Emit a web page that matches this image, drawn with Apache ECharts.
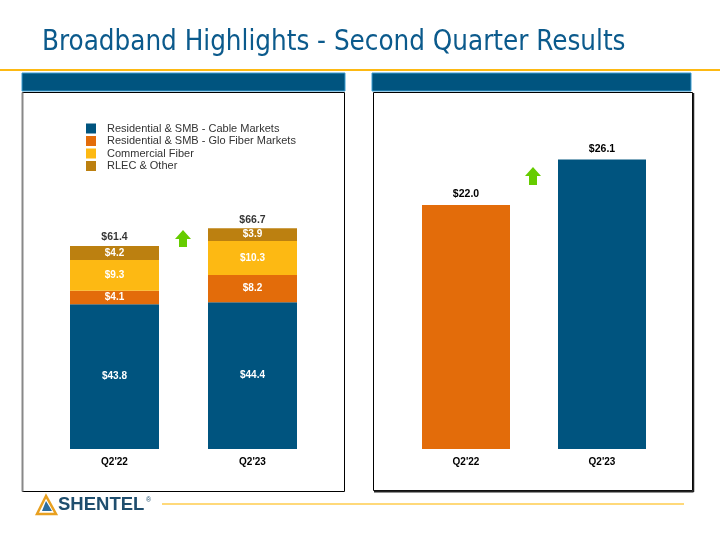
<!DOCTYPE html>
<html>
<head>
<meta charset="utf-8">
<script src="https://cdn.jsdelivr.net/npm/echarts@6/dist/echarts.min.js"></script>
<style>html,body{margin:0;padding:0;background:#fff}#c{width:720px;height:540px}</style>
</head>
<body>
<div id="c"></div>
<script>
// ---- data ----
const categories = ["Q2'22", "Q2'23"];
const cableMarkets = [43.8, 44.4];
const gloFiber = [4.1, 8.2];
const commercialFiber = [9.3, 10.3];
const rlecOther = [4.2, 3.9];
const stackTotals = [61.4, 66.7];
const rightValues = [22.0, 26.1];
const seriesNames = ['Residential & SMB - Cable Markets', 'Residential & SMB - Glo Fiber Markets', 'Commercial Fiber', 'RLEC & Other'];

const BLUE = '#00547F', ORANGE = '#E36C0A', YELLOW = '#FDB913', BROWN = '#BC8010';
const fmt = v => '$' + Number(v).toFixed(1);

const chart = echarts.init(document.getElementById('c'));
const inLabel = {show: true, position: 'inside', color: '#fff', fontFamily: 'Liberation Sans, Arial', fontWeight: 'bold', fontSize: 10, formatter: p => fmt(p.value)};
const barBase = {type: 'bar', stack: 'L', xAxisIndex: 0, yAxisIndex: 0, barWidth: 89, label: inLabel};

function arrow(cx, top, bottom) {
  const hw = 8, sw = 4, hh = 9;
  return {type: 'polygon', shape: {points: [[cx, top], [cx + hw, top + hh], [cx + sw, top + hh], [cx + sw, bottom], [cx - sw, bottom], [cx - sw, top + hh], [cx - hw, top + hh]]}, style: {fill: '#66CC00'}};
}

chart.setOption({
  animation: false,
  graphic: [
    {type: 'text', left: 42, top: 29, style: {text: 'Broadband Highlights - Second Quarter Results', fill: '#0B5A8C', font: '27.5px "DejaVu Sans Condensed", sans-serif'}},
    {type: 'rect', shape: {x: 0, y: 69, width: 720, height: 2}, style: {fill: '#FDB913'}},
    {type: 'rect', shape: {x: 22, y: 73, width: 323, height: 18}, style: {fill: BLUE, stroke: '#3A9BD0', lineWidth: 1}},
    {type: 'rect', shape: {x: 372, y: 73, width: 319, height: 18}, style: {fill: BLUE, stroke: '#3A9BD0', lineWidth: 1}},
    {type: 'rect', shape: {x: 22.5, y: 92.5, width: 322, height: 399}, style: {fill: 'none', stroke: '#000', lineWidth: 1}},
    {type: 'line', shape: {x1: 22.5, y1: 92.5, x2: 22.5, y2: 491.5}, style: {stroke: '#888', lineWidth: 2}},
    {type: 'rect', shape: {x: 373.5, y: 92.5, width: 319, height: 398}, style: {fill: 'none', stroke: '#000', lineWidth: 1}},
    {type: 'line', shape: {x1: 374, y1: 491.5, x2: 693.5, y2: 491.5}, style: {stroke: '#222', lineWidth: 2}},
    {type: 'line', shape: {x1: 693.5, y1: 93, x2: 693.5, y2: 492}, style: {stroke: '#222', lineWidth: 1.5}},
    arrow(183, 230, 247),
    arrow(533, 167, 185),
    {type: 'polygon', shape: {points: [[46, 496], [37, 514], [56, 514]]}, style: {fill: 'none', stroke: '#E8A020', lineWidth: 2.5}},
    {type: 'polygon', shape: {points: [[46, 501], [42, 511], [52, 511]]}, style: {fill: '#2E6E9E'}},
    {type: 'text', left: 58, top: 495, style: {text: 'SHENTEL', fill: '#1F4E6E', font: 'bold 18.5px "Liberation Sans", Arial'}},
    {type: 'text', left: 146, top: 497, style: {text: '®', fill: '#1F4E6E', font: '7px "Liberation Sans", Arial'}},
    {type: 'rect', shape: {x: 162, y: 503, width: 522, height: 2}, style: {fill: '#FFD97A'}}
  ],
  legend: {
    orient: 'vertical', left: 81, top: 118, itemWidth: 10, itemHeight: 10, itemGap: 1.5, icon: 'rect',
    data: seriesNames, selectedMode: false,
    textStyle: {fontFamily: 'Liberation Sans, Arial', fontSize: 11, color: '#333', padding: [0, 0, 0, 6]}
  },
  grid: [
    {left: 45.5, right: 720 - 321.5, bottom: 91, top: 449 - 80 * 3.306},
    {left: 398, right: 50, bottom: 91, top: 449 - 30 * 11.09}
  ],
  xAxis: [
    {type: 'category', gridIndex: 0, data: categories, axisLine: {show: false}, axisTick: {show: false}, axisLabel: {margin: 8, color: '#000', fontWeight: 'bold', fontSize: 10, fontFamily: 'Liberation Sans, Arial'}},
    {type: 'category', gridIndex: 1, data: categories, axisLine: {show: false}, axisTick: {show: false}, axisLabel: {margin: 8, color: '#000', fontWeight: 'bold', fontSize: 10, fontFamily: 'Liberation Sans, Arial'}}
  ],
  yAxis: [
    {type: 'value', gridIndex: 0, min: 0, max: 80, show: false, splitLine: {show: false}},
    {type: 'value', gridIndex: 1, min: 0, max: 30, show: false, splitLine: {show: false}}
  ],
  series: [
    Object.assign({}, barBase, {name: seriesNames[0], data: cableMarkets, itemStyle: {color: BLUE}}),
    Object.assign({}, barBase, {name: seriesNames[1], data: gloFiber, itemStyle: {color: ORANGE}}),
    Object.assign({}, barBase, {name: seriesNames[2], data: commercialFiber, itemStyle: {color: YELLOW}}),
    Object.assign({}, barBase, {name: seriesNames[3], data: rlecOther, itemStyle: {color: BROWN}}),
    {type: 'scatter', xAxisIndex: 0, yAxisIndex: 0, symbolSize: 0, data: stackTotals, silent: true,
      label: {show: true, position: 'top', distance: 3, color: '#000', fontWeight: 'bold', fontSize: 10.5, fontFamily: 'Liberation Sans, Arial', formatter: p => fmt(p.value)}},
    {type: 'bar', name: 'Broadband', xAxisIndex: 1, yAxisIndex: 1, barWidth: 88,
      data: rightValues.map((v, i) => ({value: v, itemStyle: {color: i === 0 ? ORANGE : BLUE}})),
      label: {show: true, position: 'top', distance: 5, color: '#000', fontWeight: 'bold', fontSize: 10.5, fontFamily: 'Liberation Sans, Arial', formatter: p => fmt(p.value)}}
  ]
});
</script>
</body>
</html>
